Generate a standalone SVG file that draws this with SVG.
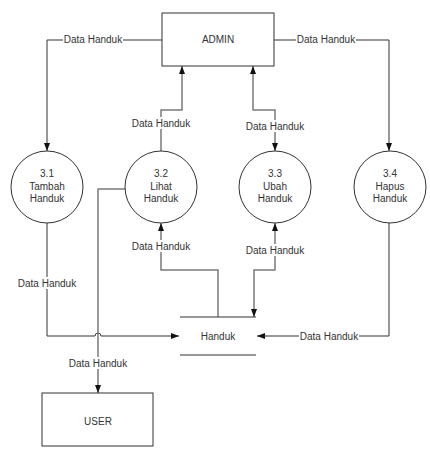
<svg xmlns="http://www.w3.org/2000/svg" width="430" height="451" viewBox="0 0 430 451">
<style>
text{font-family:"Liberation Sans",Arial,sans-serif;font-size:10px;fill:#333;text-anchor:middle}
.shape{fill:#fff;stroke:#333;stroke-width:1}
.dk{fill:none;stroke:#333;stroke-width:1}
.gr{fill:none;stroke:#7a7a7a;stroke-width:1.5}
.lb{fill:#fff;stroke:none}
</style>
<defs>
<marker id="ah" markerUnits="userSpaceOnUse" markerWidth="8" markerHeight="8" viewBox="0 0 8 8" refX="8" refY="4" orient="auto-start-reverse">
<path d="M0,1 L8,4 L0,7 Z" fill="#111"/>
</marker>
</defs>
<rect width="430" height="451" fill="#fff"/>
<g id="connectors">
<path class="dk" d="M162,40 H47 V151" marker-end="url(#ah)"/>
<path class="dk" d="M274,40 H389 V151" marker-end="url(#ah)"/>
<path class="gr" d="M161,151 V110 H182 V66" marker-end="url(#ah)"/>
<path class="gr" d="M253,66 V110 H275 V151" marker-start="url(#ah)" marker-end="url(#ah)"/>
<path class="gr" d="M218,317 V270 H161 V223" marker-end="url(#ah)"/>
<path class="gr" d="M275,223 V270 H254 V317" marker-start="url(#ah)" marker-end="url(#ah)"/>
<path class="dk" d="M47,223 V336 H95 A3,3 0 0 1 101,336 H179" marker-end="url(#ah)"/>
<path class="dk" d="M389,223 V336 H257" marker-end="url(#ah)"/>
<path class="gr" d="M125,189 H98 V393" marker-end="url(#ah)"/>
<g id="labels">
<rect class="lb" x="63" y="33" width="60" height="12"/><text x="93" y="42.5">Data Handuk</text>
<rect class="lb" x="296" y="33" width="60" height="12"/><text x="326" y="42.5">Data Handuk</text>
<rect class="lb" x="131" y="117" width="60" height="12"/><text x="161" y="126.5">Data Handuk</text>
<rect class="lb" x="245" y="120" width="60" height="12"/><text x="275" y="129.5">Data Handuk</text>
<rect class="lb" x="131" y="240" width="60" height="12"/><text x="161" y="249.5">Data Handuk</text>
<rect class="lb" x="245" y="244" width="60" height="12"/><text x="275" y="253.5">Data Handuk</text>
<rect class="lb" x="17" y="277" width="60" height="12"/><text x="47" y="286.5">Data Handuk</text>
<rect class="lb" x="299" y="330" width="60" height="12"/><text x="329" y="339.5">Data Handuk</text>
<rect class="lb" x="68" y="357" width="60" height="12"/><text x="98" y="366.5">Data Handuk</text>
</g>
</g>
<g id="admin">
<rect class="shape" x="162" y="13" width="112" height="53"/>
<text x="218" y="43">ADMIN</text>
</g>
<g id="p31">
<circle class="shape" cx="47" cy="187" r="36"/>
<text x="47" y="176.5">3.1</text><text x="47" y="189.5">Tambah</text><text x="47" y="202">Handuk</text>
</g>
<g id="p32">
<circle class="shape" cx="161" cy="187" r="36"/>
<text x="161" y="176.5">3.2</text><text x="161" y="189.5">Lihat</text><text x="161" y="202">Handuk</text>
</g>
<g id="p33">
<circle class="shape" cx="275" cy="187" r="36"/>
<text x="275" y="176.5">3.3</text><text x="275" y="189.5">Ubah</text><text x="275" y="202">Handuk</text>
</g>
<g id="p34">
<circle class="shape" cx="390" cy="187" r="36"/>
<text x="390" y="176.5">3.4</text><text x="390" y="189.5">Hapus</text><text x="390" y="202">Handuk</text>
</g>
<g id="store">
<line class="dk" x1="180" y1="317" x2="256" y2="317"/>
<line class="dk" x1="180" y1="355" x2="256" y2="355"/>
<text x="218" y="339.5">Handuk</text>
</g>
<g id="user">
<rect class="shape" x="42" y="393" width="111" height="53"/>
<text x="98" y="424.5">USER</text>
</g>
</svg>
